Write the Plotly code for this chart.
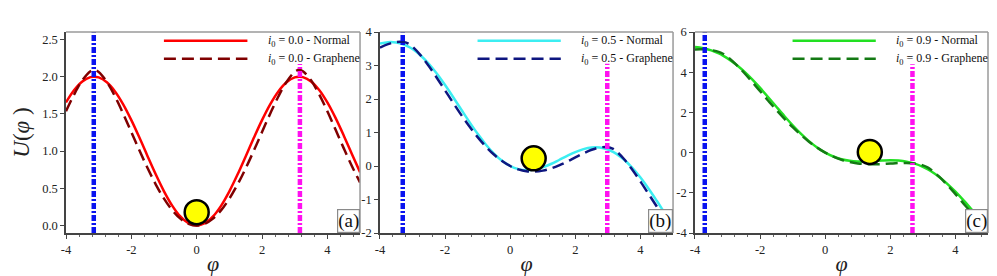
import plotly.graph_objects as go

# ---------------- data ----------------
phi = [-4.0, -3.75, -3.5, -3.25, -3.1416, -3.0, -2.75, -2.5, -2.25, -2.0, -1.75, -1.5,
       -1.25, -1.0, -0.75, -0.5, -0.25, 0.0, 0.25, 0.5, 0.75, 1.0, 1.25, 1.5, 1.75, 2.0,
       2.25, 2.5, 2.75, 3.0, 3.1416, 3.25, 3.5, 3.75, 4.0, 4.25, 4.5, 4.75, 5.0]

# i0 = 0.0
normal_00 = [1.654, 1.821, 1.936, 1.994, 2.000, 1.990, 1.924, 1.801, 1.628, 1.416, 1.178, 0.929,
             0.685, 0.460, 0.268, 0.122, 0.031, 0.000, 0.031, 0.122, 0.268, 0.460, 0.685, 0.929,
             1.178, 1.416, 1.628, 1.801, 1.924, 1.990, 2.000, 1.994, 1.936, 1.821, 1.654, 1.446,
             1.211, 0.962, 0.716]
graphene_00 = [1.535, 1.762, 1.951, 2.073, 2.092, 2.063, 1.929, 1.734, 1.503, 1.256, 1.007, 0.769,
               0.551, 0.362, 0.207, 0.093, 0.024, 0.000, 0.024, 0.093, 0.207, 0.362, 0.551, 0.769,
               1.007, 1.256, 1.503, 1.734, 1.929, 2.063, 2.092, 2.073, 1.951, 1.762, 1.535, 1.289,
               1.040, 0.800, 0.579]
# i0 = 0.5
normal_05 = [3.654, 3.696, 3.686, 3.619, 3.571, 3.490, 3.299, 3.051, 2.753, 2.416, 2.053, 1.679,
             1.310, 0.960, 0.643, 0.372, 0.156, 0.000, -0.094, -0.128, -0.107, -0.040, 0.060, 0.179,
             0.303, 0.416, 0.503, 0.551, 0.549, 0.490, 0.429, 0.369, 0.186, -0.054, -0.346, -0.679,
             -1.039, -1.413, -1.784]
graphene_05 = [3.535, 3.637, 3.701, 3.698, 3.663, 3.563, 3.304, 2.984, 2.628, 2.256, 1.882, 1.519,
               1.176, 0.862, 0.582, 0.343, 0.149, 0.000, -0.101, -0.157, -0.168, -0.138, -0.074, 0.019,
               0.132, 0.256, 0.378, 0.484, 0.554, 0.563, 0.521, 0.448, 0.201, -0.113, -0.465, -0.836,
               -1.210, -1.575, -1.921]
# i0 = 0.9
normal_09 = [5.254, 5.196, 5.086, 4.919, 4.827, 4.690, 4.399, 4.051, 3.653, 3.216, 2.753, 2.279,
             1.810, 1.360, 0.943, 0.572, 0.256, 0.000, -0.194, -0.328, -0.407, -0.440, -0.440, -0.421,
             -0.397, -0.384, -0.397, -0.449, -0.551, -0.710, -0.827, -0.931, -1.214, -1.554, -1.946,
             -2.379, -2.839, -3.313, -3.784]
graphene_09 = [5.135, 5.137, 5.101, 4.998, 4.919, 4.763, 4.404, 3.984, 3.528, 3.056, 2.582, 2.119,
               1.676, 1.262, 0.882, 0.543, 0.249, 0.000, -0.201, -0.357, -0.468, -0.538, -0.574, -0.581,
               -0.568, -0.544, -0.522, -0.516, -0.546, -0.637, -0.735, -0.852, -1.199, -1.613, -2.065,
               -2.536, -3.010, -3.475, -3.921]

i0_labels = ["0.0", "0.5", "0.9"]
panel_tags = ["(a)", "(b)", "(c)"]
normal_series = [normal_00, normal_05, normal_09]
graphene_series = [graphene_00, graphene_05, graphene_09]

blue_x = [-3.15, -3.3, -3.7]
magenta_x = [3.16, 2.98, 2.68]
magenta_top = [2.17, 3.05, 4.4]
ball_x = [0.0, 0.72, 1.37]
ball_y = [0.18, 0.23, 0.03]
y_ranges = [[-0.1, 2.6], [-2, 4], [-4, 6]]
x_range = [-4, 5]
x_tickvals = [-4, -2, 0, 2, 4]
x_ticktext = ["-4", "-2", "0", "2", "4"]
y_tickvals = [[0.0, 0.5, 1.0, 1.5, 2.0, 2.5], [-2, -1, 0, 1, 2, 3, 4], [-4, -2, 0, 2, 4, 6]]
y_ticktext = [["0.0", "0.5", "1.0", "1.5", "2.0", "2.5"],
              ["-2", "-1", "0", "1", "2", "3", "4"],
              ["-4", "-2", "0", "2", "4", "6"]]

# ---------------- styles ----------------
normal_colors = ["#FF0000", "#3CEEF2", "#22E022"]
graphene_colors = ["#800000", "#0E1680", "#147A14"]
FONT = "'Liberation Serif', 'Times New Roman', Tinos, 'DejaVu Serif', serif"
domains = [[0.0, 0.3189], [0.3405, 0.6584], [0.6822, 1.0]]
VDASH = "6px,2px,2px,2px"

fig = go.Figure()
shapes = []
annotations = []

for k in range(3):
    xa = "x" if k == 0 else f"x{k+1}"
    ya = "y" if k == 0 else f"y{k+1}"
    xdom = f"{xa} domain"
    ydom = f"{ya} domain"

    fig.add_trace(go.Scatter(x=phi, y=normal_series[k], xaxis=xa, yaxis=ya, mode="lines",
                             line=dict(color=normal_colors[k], width=2.5, shape="spline"),
                             showlegend=False, hoverinfo="skip"))
    fig.add_trace(go.Scatter(x=phi, y=graphene_series[k], xaxis=xa, yaxis=ya, mode="lines",
                             line=dict(color=graphene_colors[k], width=2.5, shape="spline",
                                       dash="12px,6px"),
                             showlegend=False, hoverinfo="skip"))
    # vertical markers
    fig.add_trace(go.Scatter(x=[blue_x[k], blue_x[k]], y=[y_ranges[k][0], y_ranges[k][1]],
                             xaxis=xa, yaxis=ya, mode="lines",
                             line=dict(color="#0A14F0", width=4.5, dash=VDASH),
                             showlegend=False, hoverinfo="skip"))
    fig.add_trace(go.Scatter(x=[magenta_x[k], magenta_x[k]], y=[y_ranges[k][0], magenta_top[k]],
                             xaxis=xa, yaxis=ya, mode="lines",
                             line=dict(color="#FF10F0", width=4.5, dash=VDASH),
                             showlegend=False, hoverinfo="skip"))
    # ball
    fig.add_trace(go.Scatter(x=[ball_x[k]], y=[ball_y[k]], xaxis=xa, yaxis=ya, mode="markers",
                             marker=dict(size=24, color="#FFFF00",
                                         line=dict(color="black", width=2.5)),
                             showlegend=False, hoverinfo="skip"))

    # frame (top / right)
    shapes.append(dict(type="line", xref=xdom, yref=ydom, x0=0, x1=1, y0=1, y1=1,
                       line=dict(color="#9A9A9A", width=1.5), layer="above"))
    shapes.append(dict(type="line", xref=xdom, yref=ydom, x0=1, x1=1, y0=0, y1=1,
                       line=dict(color="#9A9A9A", width=1.5), layer="above"))

    # custom legend
    legend_rows = [(0.957, normal_colors[k], None, "Normal"),
                   (0.867, graphene_colors[k], "12px,6px", "Graphene")]
    for yy, col, dsh, name in legend_rows:
        ln = dict(color=col, width=2.5)
        if dsh:
            ln["dash"] = dsh
        shapes.append(dict(type="line", xref=xdom, yref=ydom, x0=0.333, x1=0.617,
                           y0=yy, y1=yy, line=ln))
        annotations.append(dict(xref=xdom, yref=ydom, x=0.68, y=yy, xanchor="left",
                                yanchor="middle", showarrow=False,
                                text=f"<i>i</i><sub>0</sub> = {i0_labels[k]} - {name}",
                                font=dict(family=FONT, size=12, color="#111")))
    # panel tag
    annotations.append(dict(xref=xdom, yref=ydom, x=1, y=0, xanchor="right", yanchor="bottom",
                            showarrow=False, text=panel_tags[k],
                            font=dict(family=FONT, size=19, color="#111"),
                            bgcolor="white", bordercolor="#8A8A8A", borderwidth=1.2,
                            borderpad=0))

layout = dict(
    width=997, height=276,
    margin=dict(l=55, r=17, t=24, b=41),
    paper_bgcolor="white", plot_bgcolor="white",
    font=dict(family=FONT, size=12, color="#222"),
    shapes=shapes, annotations=annotations,
    showlegend=False,
)

for k in range(3):
    xk = "xaxis" if k == 0 else f"xaxis{k+1}"
    yk = "yaxis" if k == 0 else f"yaxis{k+1}"
    ya = "y" if k == 0 else f"y{k+1}"
    xa = "x" if k == 0 else f"x{k+1}"
    layout[xk] = dict(domain=domains[k], anchor=ya, range=x_range,
                      tickvals=x_tickvals, ticktext=x_ticktext,
                      showgrid=False, zeroline=False, showline=True, linecolor="#444",
                      linewidth=1.5, ticks="outside", ticklen=4, tickcolor="#444",
                      tickfont=dict(family=FONT, size=12.5, color="#222"),
                      minor=dict(dtick=0.4, tick0=-4, ticks="outside", ticklen=2.5,
                                 tickcolor="#666", showgrid=False),
                      title=dict(text="<i>φ</i>", font=dict(family=FONT, size=22, color="#222"),
                                 standoff=0))
    ydict = dict(domain=[0, 1], anchor=xa, range=y_ranges[k],
                 tickvals=y_tickvals[k], ticktext=y_ticktext[k],
                 showgrid=False, zeroline=False, showline=True, linecolor="#444",
                 linewidth=1.5, ticks="outside", ticklen=4, tickcolor="#444",
                 tickfont=dict(family=FONT, size=12.5, color="#222"))
    if k == 0:
        ydict["title"] = dict(text="<i>U</i>(<i>φ</i> )",
                              font=dict(family=FONT, size=23, color="#222"), standoff=6)
    layout[yk] = ydict

fig.update_layout(**layout)
fig.write_html("out.html")
